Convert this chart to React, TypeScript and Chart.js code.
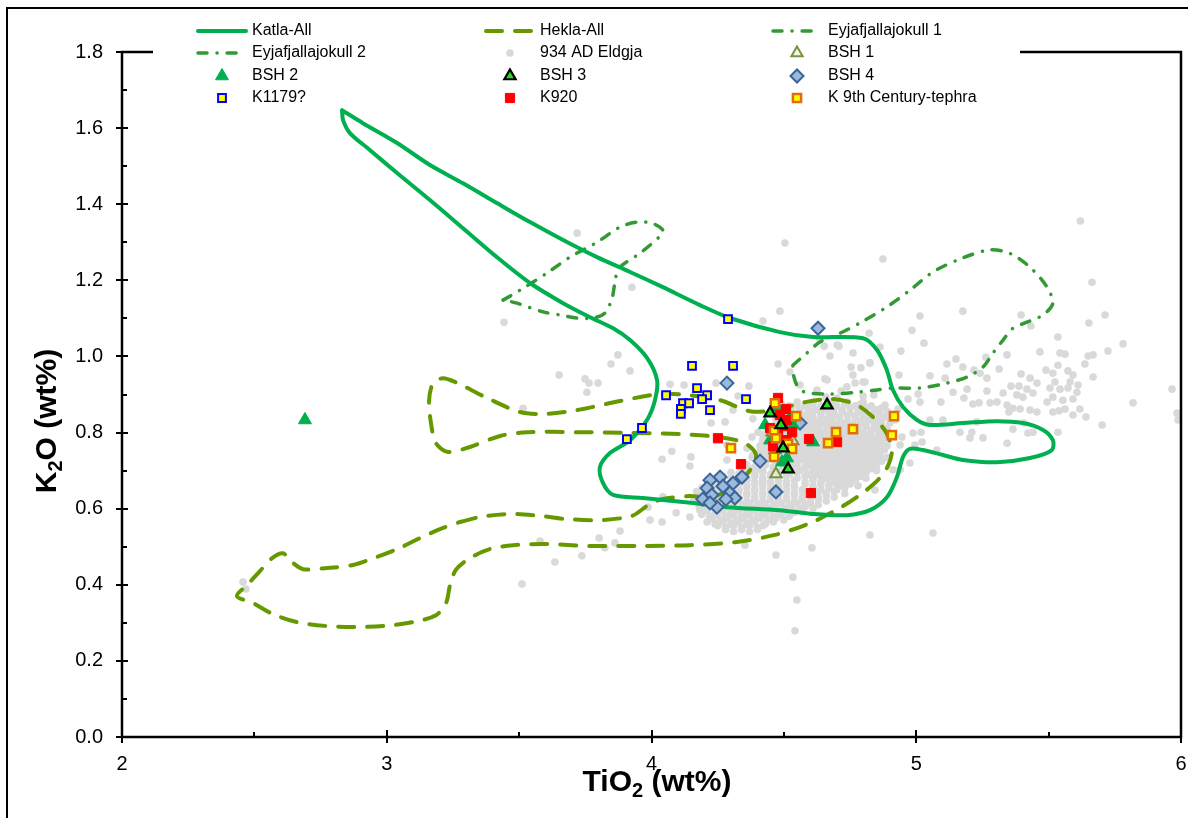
import React, { useEffect, useRef } from 'react';
import { Chart, registerables } from 'chart.js';

Chart.register(...registerables);

type Pt = [number, number];

const FONT = '"Liberation Sans", Arial, sans-serif';

const xTickValues = [2, 3, 4, 5, 6];
const xMinorValues = [2.5, 3.5, 4.5, 5.5];
const yTickValues = [0, 0.2, 0.4, 0.6, 0.8, 1.0, 1.2, 1.4, 1.6, 1.8];
const yMinorValues = [0.1, 0.3, 0.5, 0.7, 0.9, 1.1, 1.3, 1.5, 1.7];

const katlaAll: Pt[] = [
  [2.831, 1.647], [2.910, 1.613], [3.039, 1.561], [3.163, 1.503], [3.288, 1.455], [3.416, 1.403],
  [3.541, 1.353], [3.666, 1.306], [3.794, 1.261], [3.919, 1.222], [4.043, 1.182], [4.183, 1.135],
  [4.296, 1.101], [4.485, 1.064], [4.610, 1.051], [4.799, 1.048], [4.852, 1.017], [4.889, 0.964],
  [4.912, 0.912], [4.950, 0.867], [5.003, 0.833], [5.052, 0.820], [5.176, 0.825], [5.305, 0.830],
  [5.403, 0.825], [5.479, 0.807], [5.516, 0.780], [5.512, 0.754], [5.430, 0.733], [5.305, 0.722],
  [5.176, 0.728], [5.101, 0.741], [5.025, 0.754], [4.976, 0.757], [4.950, 0.736], [4.927, 0.683],
  [4.889, 0.630], [4.825, 0.596], [4.738, 0.583], [4.610, 0.586], [4.485, 0.596], [4.285, 0.604],
  [4.157, 0.615], [3.968, 0.628], [3.855, 0.636], [3.817, 0.667], [3.805, 0.709], [3.843, 0.746],
  [3.919, 0.780], [3.983, 0.833], [4.013, 0.885], [4.021, 0.938], [3.983, 0.996], [3.919, 1.043],
  [3.855, 1.074], [3.768, 1.103], [3.666, 1.140], [3.541, 1.193], [3.416, 1.261], [3.288, 1.337],
  [3.163, 1.411], [3.039, 1.482], [2.937, 1.542], [2.861, 1.587], [2.835, 1.621], [2.831, 1.647],
];

const heklaAll: Pt[] = [
  [3.277, 0.565], [3.352, 0.578], [3.465, 0.586], [3.579, 0.581], [3.673, 0.573], [3.805, 0.570],
  [3.926, 0.581], [3.987, 0.609], [4.040, 0.625], [4.145, 0.633], [4.221, 0.630], [4.304, 0.654],
  [4.372, 0.701], [4.395, 0.741], [4.353, 0.772], [4.259, 0.788], [4.108, 0.796], [3.919, 0.799],
  [3.719, 0.801], [3.530, 0.801], [3.428, 0.791], [3.314, 0.762], [3.231, 0.749], [3.186, 0.772],
  [3.167, 0.825], [3.160, 0.885], [3.175, 0.930], [3.212, 0.943], [3.258, 0.933], [3.379, 0.891],
  [3.503, 0.854], [3.598, 0.849], [3.719, 0.859], [3.881, 0.883], [4.032, 0.901], [4.145, 0.898],
  [4.259, 0.885], [4.372, 0.856], [4.466, 0.859], [4.580, 0.880], [4.682, 0.888], [4.768, 0.875],
  [4.833, 0.843], [4.886, 0.801], [4.908, 0.754], [4.893, 0.712], [4.855, 0.675], [4.787, 0.636],
  [4.704, 0.599], [4.599, 0.562], [4.466, 0.531], [4.315, 0.512], [4.145, 0.504], [3.956, 0.502],
  [3.768, 0.502], [3.598, 0.507], [3.477, 0.504], [3.390, 0.494], [3.314, 0.470], [3.261, 0.439],
  [3.239, 0.399], [3.224, 0.352], [3.186, 0.320], [3.099, 0.302], [2.993, 0.292], [2.880, 0.289],
  [2.767, 0.292], [2.661, 0.302], [2.570, 0.323], [2.495, 0.352], [2.434, 0.370], [2.472, 0.399],
  [2.521, 0.436], [2.567, 0.470], [2.608, 0.483], [2.638, 0.462], [2.684, 0.441], [2.774, 0.444],
  [2.872, 0.452], [2.963, 0.473], [3.050, 0.497], [3.126, 0.523], [3.201, 0.546], [3.277, 0.565],
];

const eyja1: Pt[] = [
  [4.534, 0.977], [4.587, 1.009], [4.636, 1.038], [4.712, 1.061], [4.787, 1.088], [4.889, 1.130],
  [4.976, 1.174], [5.063, 1.222], [5.165, 1.256], [5.267, 1.279], [5.328, 1.277], [5.380, 1.261],
  [5.441, 1.227], [5.494, 1.182], [5.516, 1.140], [5.479, 1.109], [5.418, 1.090], [5.365, 1.074],
  [5.328, 1.043], [5.290, 1.009], [5.252, 0.972], [5.192, 0.946], [5.116, 0.930], [5.014, 0.917],
  [4.912, 0.917], [4.852, 0.912], [4.776, 0.906], [4.674, 0.901], [4.580, 0.906], [4.549, 0.925],
  [4.534, 0.959], [4.534, 0.977],
];

const eyja2: Pt[] = [
  [3.439, 1.148], [3.503, 1.174], [3.605, 1.219], [3.692, 1.261], [3.794, 1.300], [3.881, 1.340],
  [3.945, 1.353], [4.002, 1.350], [4.043, 1.332], [4.032, 1.316], [3.956, 1.271], [3.877, 1.232],
  [3.862, 1.195], [3.851, 1.153], [3.824, 1.114], [3.779, 1.101], [3.719, 1.101], [3.654, 1.109],
  [3.590, 1.117], [3.492, 1.140], [3.439, 1.148],
];

const eldgjaScatter: Pt[] = [
  [5.620, 1.356], [4.874, 1.256], [5.664, 1.195], [5.176, 1.119], [5.014, 1.106], [5.396, 1.109],
  [5.713, 1.109], [5.433, 1.080], [4.984, 1.069], [5.652, 1.088], [4.822, 1.061], [5.535, 1.051],
  [5.781, 1.033], [5.029, 1.035], [4.863, 1.025], [4.708, 1.027], [4.652, 1.027], [4.942, 1.014],
  [5.724, 1.014], [5.467, 1.012], [5.543, 1.009], [5.562, 1.006], [5.649, 1.001], [5.668, 1.004],
  [5.263, 0.998], [5.343, 1.004], [4.674, 1.001], [4.825, 0.983], [5.116, 0.980], [5.150, 0.993],
  [5.176, 0.972], [5.637, 0.980], [5.535, 0.977], [4.754, 0.972], [4.791, 0.970], [4.935, 0.951],
  [5.490, 0.964], [5.516, 0.956], [5.573, 0.962], [5.592, 0.951], [5.396, 0.954], [5.668, 0.946],
  [5.313, 0.967], [5.218, 0.964], [5.241, 0.956], [5.052, 0.949], [5.109, 0.943], [5.267, 0.943],
  [5.430, 0.943], [5.456, 0.930], [5.524, 0.933], [5.581, 0.933], [5.611, 0.925], [4.655, 0.941],
  [4.769, 0.930], [4.806, 0.933], [5.388, 0.922], [5.358, 0.922], [5.418, 0.914], [5.505, 0.917],
  [5.543, 0.914], [5.573, 0.917], [5.607, 0.906], [5.441, 0.904], [5.139, 0.906], [5.192, 0.914],
  [5.328, 0.904], [5.380, 0.899], [5.403, 0.893], [5.516, 0.893], [5.554, 0.885], [5.494, 0.880],
  [5.592, 0.888], [5.267, 0.909], [4.716, 0.909], [4.799, 0.896], [4.840, 0.899], [5.007, 0.901],
  [4.969, 0.888], [5.014, 0.880], [5.093, 0.880], [5.180, 0.891], [5.214, 0.875], [5.237, 0.878],
  [5.279, 0.878], [5.305, 0.880], [5.343, 0.872], [5.365, 0.864], [5.392, 0.862], [5.430, 0.859],
  [5.456, 0.854], [5.516, 0.854], [5.539, 0.857], [5.562, 0.862], [5.618, 0.862], [5.641, 0.841],
  [5.819, 0.878], [5.966, 0.914], [5.985, 0.851], [5.989, 0.833], [5.702, 0.820], [5.592, 0.846],
  [5.350, 0.854], [5.365, 0.809], [5.407, 0.825], [5.422, 0.799], [5.441, 0.801], [5.535, 0.801],
  [5.229, 0.828], [5.052, 0.833], [5.101, 0.833], [5.018, 0.801], [4.988, 0.799], [5.210, 0.801],
  [5.252, 0.786], [5.343, 0.772], [4.995, 0.767], [4.939, 0.767], [4.946, 0.788], [4.859, 0.857],
  [4.931, 0.862], [4.897, 0.841], [4.799, 0.825],
  [3.719, 1.324], [3.926, 1.182], [3.443, 1.090], [3.873, 1.004], [4.504, 1.298], [4.485, 1.119],
  [4.421, 1.093], [3.847, 0.980], [3.919, 0.962], [3.749, 0.941], [3.764, 0.930], [3.798, 0.930],
  [3.756, 0.906], [3.651, 0.951], [3.515, 0.864], [4.070, 0.927], [4.123, 0.925], [4.244, 0.930],
  [4.368, 0.922], [4.327, 0.896], [4.308, 0.859], [4.225, 0.825], [4.278, 0.828], [4.383, 0.836],
  [4.478, 0.980], [4.523, 0.959], [4.561, 0.925], [4.625, 0.912], [4.663, 0.938], [4.659, 0.893],
  [4.701, 0.891], [4.738, 0.920], [4.761, 0.951], [4.799, 0.933], [4.825, 0.983], [4.761, 1.009],
  [4.636, 1.043], [4.701, 1.030], [4.077, 0.751], [4.040, 0.730], [4.149, 0.736], [4.145, 0.712],
  [3.987, 0.604], [4.285, 0.767], [4.285, 0.728], [4.380, 0.788], [4.402, 0.801], [4.361, 0.759],
  [4.383, 0.741], [4.380, 0.702], [4.346, 0.675], [4.421, 0.670], [4.043, 0.631], [2.457, 0.407],
  [2.468, 0.389], [3.511, 0.402], [3.635, 0.460], [3.737, 0.476], [3.579, 0.515], [3.802, 0.523],
  [3.824, 0.497], [3.862, 0.510], [3.881, 0.541], [3.994, 0.570], [4.040, 0.565], [4.093, 0.589],
  [4.145, 0.578], [4.183, 0.596], [4.534, 0.420], [4.549, 0.360], [4.542, 0.279], [4.353, 0.504],
  [4.470, 0.478], [4.606, 0.497], [4.825, 0.531], [5.063, 0.536], [4.939, 0.702], [4.976, 0.720],
  [5.078, 0.754], [5.022, 0.775], [5.165, 0.801], [5.203, 0.786], [4.882, 0.872], [4.920, 0.833],
  [4.863, 0.741], [4.912, 0.702], [4.844, 0.649],
];

// dense core of the Eldgja cloud: [K2O, TiO2 values read along that row]
const eldgjaCoreRows: [number, number[]][] = [
  [0.88, [4.55, 4.61, 4.68, 4.74, 4.80]],
  [0.875, [4.49, 4.55, 4.61, 4.67, 4.73, 4.79]],
  [0.87, [4.52, 4.58, 4.64, 4.70, 4.77, 4.83]],
  [0.865, [4.47, 4.53, 4.59, 4.64, 4.69, 4.75, 4.81, 4.87]],
  [0.86, [4.50, 4.56, 4.62, 4.66, 4.72, 4.79, 4.85]],
  [0.855, [4.48, 4.56, 4.61, 4.67, 4.72, 4.78, 4.84, 4.89]],
  [0.85, [4.53, 4.59, 4.64, 4.69, 4.75, 4.81, 4.86]],
  [0.845, [4.49, 4.54, 4.58, 4.64, 4.69, 4.74, 4.80, 4.86]],
  [0.84, [4.51, 4.56, 4.61, 4.67, 4.71, 4.77, 4.83, 4.88]],
  [0.835, [4.47, 4.52, 4.57, 4.61, 4.66, 4.71, 4.77, 4.82, 4.87]],
  [0.83, [4.54, 4.59, 4.63, 4.68, 4.74, 4.79, 4.85]],
  [0.825, [4.48, 4.53, 4.58, 4.64, 4.68, 4.73, 4.79, 4.84, 4.90]],
  [0.82, [4.50, 4.56, 4.61, 4.66, 4.70, 4.76, 4.81, 4.87]],
  [0.815, [4.45, 4.51, 4.56, 4.60, 4.66, 4.71, 4.76, 4.81, 4.86]],
  [0.81, [4.48, 4.53, 4.58, 4.63, 4.68, 4.73, 4.78, 4.84, 4.89]],
  [0.805, [4.44, 4.49, 4.54, 4.59, 4.63, 4.68, 4.73, 4.78, 4.83, 4.88]],
  [0.80, [4.46, 4.51, 4.56, 4.61, 4.65, 4.71, 4.75, 4.80, 4.86]],
  [0.795, [4.42, 4.47, 4.52, 4.57, 4.62, 4.67, 4.71, 4.76, 4.81, 4.86, 4.90]],
  [0.79, [4.44, 4.49, 4.54, 4.59, 4.64, 4.69, 4.73, 4.78, 4.83, 4.88]],
  [0.785, [4.45, 4.50, 4.55, 4.60, 4.64, 4.69, 4.74, 4.79, 4.84, 4.89]],
  [0.78, [4.42, 4.47, 4.52, 4.57, 4.62, 4.66, 4.71, 4.76, 4.81, 4.86]],
  [0.775, [4.43, 4.48, 4.53, 4.58, 4.62, 4.67, 4.72, 4.77, 4.82, 4.87]],
  [0.77, [4.45, 4.50, 4.55, 4.60, 4.65, 4.69, 4.74, 4.79, 4.84]],
  [0.765, [4.41, 4.46, 4.51, 4.56, 4.61, 4.65, 4.70, 4.75, 4.80, 4.85, 4.89]],
  [0.76, [4.43, 4.48, 4.53, 4.58, 4.63, 4.67, 4.72, 4.77, 4.82, 4.87]],
  [0.755, [4.44, 4.49, 4.54, 4.59, 4.64, 4.68, 4.73, 4.78, 4.83, 4.88]],
  [0.75, [4.41, 4.46, 4.51, 4.56, 4.61, 4.66, 4.70, 4.75, 4.80, 4.85]],
  [0.745, [4.42, 4.47, 4.52, 4.57, 4.62, 4.66, 4.71, 4.76, 4.81, 4.86]],
  [0.74, [4.44, 4.49, 4.54, 4.59, 4.64, 4.68, 4.73, 4.78, 4.83]],
  [0.735, [4.38, 4.44, 4.50, 4.55, 4.60, 4.64, 4.69, 4.74, 4.79, 4.84, 4.89]],
  [0.73, [4.40, 4.47, 4.52, 4.57, 4.62, 4.66, 4.71, 4.76, 4.81, 4.86]],
  [0.725, [4.41, 4.47, 4.53, 4.58, 4.62, 4.67, 4.72, 4.77, 4.82, 4.87]],
  [0.72, [4.43, 4.50, 4.55, 4.60, 4.64, 4.69, 4.74, 4.79, 4.84]],
  [0.715, [4.36, 4.43, 4.50, 4.55, 4.60, 4.65, 4.70, 4.75, 4.80, 4.85]],
  [0.71, [4.39, 4.46, 4.53, 4.58, 4.62, 4.67, 4.72, 4.77, 4.82]],
  [0.705, [4.34, 4.40, 4.46, 4.53, 4.58, 4.63, 4.68, 4.73, 4.78, 4.83]],
  [0.70, [4.37, 4.42, 4.49, 4.56, 4.61, 4.65, 4.70, 4.75, 4.80, 4.85]],
  [0.695, [4.30, 4.36, 4.42, 4.48, 4.55, 4.61, 4.66, 4.71, 4.76, 4.81]],
  [0.69, [4.33, 4.39, 4.45, 4.52, 4.59, 4.63, 4.68, 4.73, 4.78]],
  [0.685, [4.27, 4.33, 4.39, 4.45, 4.51, 4.58, 4.64, 4.69, 4.74, 4.79]],
  [0.68, [4.30, 4.36, 4.42, 4.48, 4.55, 4.61, 4.66, 4.71, 4.76, 4.81]],
  [0.675, [4.24, 4.30, 4.36, 4.42, 4.48, 4.54, 4.61, 4.67, 4.72, 4.77]],
  [0.67, [4.27, 4.33, 4.39, 4.45, 4.51, 4.58, 4.64, 4.69, 4.74]],
  [0.665, [4.21, 4.27, 4.33, 4.39, 4.45, 4.51, 4.58, 4.64, 4.70, 4.75]],
  [0.66, [4.24, 4.30, 4.36, 4.42, 4.48, 4.54, 4.61, 4.67, 4.72, 4.78]],
  [0.655, [4.19, 4.25, 4.30, 4.36, 4.42, 4.48, 4.54, 4.61, 4.67, 4.73]],
  [0.65, [4.22, 4.27, 4.33, 4.39, 4.45, 4.51, 4.57, 4.64, 4.70]],
  [0.645, [4.17, 4.22, 4.28, 4.33, 4.39, 4.45, 4.51, 4.57, 4.63, 4.69]],
  [0.64, [4.20, 4.25, 4.30, 4.36, 4.42, 4.48, 4.54, 4.60, 4.66, 4.73]],
  [0.635, [4.19, 4.25, 4.30, 4.36, 4.42, 4.48, 4.54, 4.60, 4.66]],
  [0.63, [4.22, 4.28, 4.33, 4.39, 4.45, 4.51, 4.57, 4.63, 4.69]],
  [0.625, [4.16, 4.22, 4.28, 4.33, 4.39, 4.45, 4.51, 4.57, 4.63]],
  [0.62, [4.19, 4.25, 4.31, 4.36, 4.42, 4.48, 4.54, 4.60, 4.66]],
  [0.615, [4.20, 4.25, 4.31, 4.37, 4.43, 4.49, 4.55, 4.60]],
  [0.61, [4.23, 4.28, 4.34, 4.40, 4.46, 4.52, 4.58, 4.63]],
  [0.605, [4.18, 4.23, 4.29, 4.35, 4.41, 4.47, 4.53, 4.58]],
  [0.60, [4.21, 4.26, 4.32, 4.38, 4.44, 4.50, 4.56, 4.61]],
  [0.595, [4.21, 4.27, 4.33, 4.39, 4.45, 4.51, 4.57]],
  [0.59, [4.24, 4.30, 4.36, 4.42, 4.48, 4.54]],
  [0.585, [4.19, 4.25, 4.31, 4.37, 4.43, 4.49]],
  [0.58, [4.22, 4.28, 4.34, 4.40, 4.46, 4.52]],
  [0.575, [4.23, 4.29, 4.35, 4.41, 4.47]],
  [0.57, [4.26, 4.32, 4.38, 4.44, 4.50]],
  [0.565, [4.21, 4.27, 4.33, 4.39, 4.46]],
  [0.56, [4.24, 4.30, 4.36, 4.43]],
  [0.555, [4.25, 4.31, 4.37, 4.42]],
  [0.55, [4.28, 4.34, 4.40]],
  [0.545, [4.28, 4.34, 4.40]],
  [0.54, [4.31, 4.37]],
];

const bsh1: Pt[] = [[4.470, 0.691], [4.534, 0.778], [4.455, 0.801]];
const bsh2: Pt[] = [
  [2.691, 0.833], [4.429, 0.820], [4.448, 0.780], [4.474, 0.867], [4.493, 0.722], [4.512, 0.733],
  [4.610, 0.775], [4.534, 0.820], [4.466, 0.754], [4.523, 0.838],
];
const bsh3: Pt[] = [[4.448, 0.851], [4.663, 0.872], [4.516, 0.704], [4.497, 0.759], [4.489, 0.820]];
const bsh4: Pt[] = [
  [4.629, 1.074], [4.285, 0.930], [4.561, 0.825], [4.485, 0.767], [4.410, 0.725], [4.470, 0.644],
  [4.342, 0.683], [4.308, 0.667], [4.296, 0.641], [4.315, 0.628], [4.259, 0.683], [4.221, 0.675],
  [4.270, 0.659], [4.210, 0.654], [4.228, 0.636], [4.194, 0.625], [4.247, 0.604], [4.221, 0.615],
  [4.281, 0.625],
];
const k1179: Pt[] = [
  [4.289, 1.098], [4.153, 0.975], [4.308, 0.975], [4.172, 0.917], [4.055, 0.898], [4.210, 0.898],
  [4.191, 0.888], [4.119, 0.877], [4.142, 0.877], [4.357, 0.888], [4.221, 0.859], [4.111, 0.862],
  [4.111, 0.849], [3.964, 0.812], [3.907, 0.783],
];
const k920: Pt[] = [
  [4.478, 0.891], [4.508, 0.862], [4.512, 0.833], [4.497, 0.817], [4.448, 0.812], [4.478, 0.806],
  [4.531, 0.801], [4.508, 0.780], [4.459, 0.764], [4.251, 0.785], [4.338, 0.717], [4.595, 0.783],
  [4.701, 0.775], [4.602, 0.641], [4.485, 0.846],
];
const k9th: Pt[] = [
  [4.466, 0.877], [4.546, 0.843], [4.463, 0.804], [4.470, 0.785], [4.516, 0.770], [4.531, 0.757],
  [4.463, 0.736], [4.697, 0.801], [4.761, 0.809], [4.667, 0.772], [4.916, 0.843], [4.908, 0.793],
  [4.300, 0.759],
];

const toXY = (pts: Pt[]) => pts.map(([x, y]) => ({ x, y }));

const eldgja934: Pt[] = [
  ...eldgjaScatter,
  ...eldgjaCoreRows.flatMap(([y, xs]) => xs.map((x) => [x, y] as Pt)),
];

function markerPath(ctx: CanvasRenderingContext2D, style: string, x: number, y: number, r: number) {
  ctx.beginPath();
  if (style === 'triangle') {
    let a = 0;
    ctx.moveTo(x + Math.sin(a) * r, y - Math.cos(a) * r);
    a += (2 * Math.PI) / 3;
    ctx.lineTo(x + Math.sin(a) * r, y - Math.cos(a) * r);
    a += (2 * Math.PI) / 3;
    ctx.lineTo(x + Math.sin(a) * r, y - Math.cos(a) * r);
    ctx.closePath();
  } else if (style === 'rect') {
    const s = Math.SQRT1_2 * r;
    ctx.rect(x - s, y - s, 2 * s, 2 * s);
  } else if (style === 'rectRot') {
    ctx.moveTo(x - r, y);
    ctx.lineTo(x, y - r);
    ctx.lineTo(x + r, y);
    ctx.lineTo(x, y + r);
    ctx.closePath();
  } else {
    ctx.arc(x, y, r, 0, Math.PI * 2);
  }
}

const decorPlugin = {
  id: 'decor',
  afterDraw(chart: any) {
    const ctx: CanvasRenderingContext2D = chart.ctx;
    const { left, right, top, bottom } = chart.chartArea;
    const xs = chart.scales.x;
    const ys = chart.scales.y;
    ctx.save();
    ctx.setLineDash([]);
    ctx.strokeStyle = '#000';
    ctx.lineCap = 'butt';

    // outer frame
    ctx.lineWidth = 2;
    ctx.beginPath();
    ctx.moveTo(7, 818);
    ctx.lineTo(7, 8);
    ctx.lineTo(1188, 8);
    ctx.stroke();

    // plot frame
    ctx.lineWidth = 2.5;
    ctx.beginPath();
    ctx.moveTo(left, top);
    ctx.lineTo(left, bottom);
    ctx.lineTo(right, bottom);
    ctx.lineTo(right, top);
    ctx.closePath();
    ctx.stroke();

    // ticks
    ctx.lineWidth = 2;
    ctx.beginPath();
    yTickValues.forEach((v) => {
      const py = Math.round(ys.getPixelForValue(v));
      ctx.moveTo(left - 6, py);
      ctx.lineTo(left + 6, py);
    });
    yMinorValues.forEach((v) => {
      const py = Math.round(ys.getPixelForValue(v));
      ctx.moveTo(left, py);
      ctx.lineTo(left + 5, py);
    });
    xTickValues.forEach((v) => {
      const px = Math.round(xs.getPixelForValue(v));
      ctx.moveTo(px, bottom - 7);
      ctx.lineTo(px, bottom + 6);
    });
    xMinorValues.forEach((v) => {
      const px = Math.round(xs.getPixelForValue(v));
      ctx.moveTo(px, bottom - 5);
      ctx.lineTo(px, bottom);
    });
    ctx.stroke();

    // legend box
    ctx.fillStyle = '#fff';
    ctx.fillRect(153, 14, 867, 92);

    const colSym = [222, 510, 797];
    const colText = [252, 540, 828];
    const rowY = [31, 53, 76, 98];
    chart.data.datasets.forEach((ds: any, i: number) => {
      const r = Math.floor(i / 3);
      const c = i % 3;
      const cx = colSym[c];
      const cy = rowY[r];
      if (ds.showLine) {
        ctx.save();
        ctx.strokeStyle = ds.borderColor;
        ctx.lineWidth = ds.borderWidth;
        ctx.lineCap = 'round';
        ctx.setLineDash(ds.borderDash || []);
        ctx.beginPath();
        ctx.moveTo(cx - 24, cy);
        ctx.lineTo(cx + 24, cy);
        ctx.stroke();
        ctx.restore();
      } else {
        markerPath(ctx, ds.pointStyle, cx, cy, ds.pointRadius);
        ctx.fillStyle = ds.backgroundColor;
        ctx.fill();
        if (ds.borderWidth > 0) {
          ctx.lineWidth = ds.borderWidth;
          ctx.strokeStyle = ds.borderColor;
          ctx.stroke();
        }
      }
      ctx.fillStyle = '#000';
      ctx.font = `16px ${FONT}`;
      ctx.textAlign = 'left';
      ctx.textBaseline = 'middle';
      ctx.fillText(ds.label, colText[c], cy);
    });

    // axis titles
    const big = `bold 30px ${FONT}`;
    const small = `bold 20px ${FONT}`;
    const drawTitle = (a: string, sub: string, b: string, cx: number, base: number) => {
      ctx.textAlign = 'left';
      ctx.textBaseline = 'alphabetic';
      ctx.font = big;
      const wa = ctx.measureText(a).width;
      const wb = ctx.measureText(b).width;
      ctx.font = small;
      const ws = ctx.measureText(sub).width;
      const total = wa + ws + wb;
      let x = cx - total / 2;
      ctx.font = big;
      ctx.fillText(a, x, base);
      x += wa;
      ctx.font = small;
      ctx.fillText(sub, x, base + 6);
      x += ws;
      ctx.font = big;
      ctx.fillText(b, x, base);
    };
    ctx.fillStyle = '#000';
    drawTitle('TiO', '2', ' (wt%)', 657, 791);
    ctx.save();
    ctx.translate(56, 421);
    ctx.rotate(-Math.PI / 2);
    drawTitle('K', '2', 'O (wt%)', 0, 0);
    ctx.restore();

    ctx.restore();
  },
};

export default function App() {
  const ref = useRef<HTMLCanvasElement>(null);

  useEffect(() => {
    const canvas = ref.current;
    if (!canvas) return;

    const lineDs = (label: string, pts: Pt[], color: string, dash: number[], width: number, order: number) => ({
      label,
      data: toXY(pts),
      showLine: true,
      borderColor: color,
      backgroundColor: color,
      borderWidth: width,
      borderDash: dash,
      borderCapStyle: 'round',
      borderJoinStyle: 'round',
      tension: 0.3,
      pointRadius: 0,
      pointHoverRadius: 0,
      fill: false,
      order,
    });
    const ptDs = (label: string, pts: Pt[], style: string, r: number, fillC: string, strokeC: string, bw: number, order: number) => ({
      label,
      data: toXY(pts),
      showLine: false,
      pointStyle: style,
      pointRadius: r,
      pointHoverRadius: r,
      backgroundColor: fillC,
      borderColor: strokeC,
      borderWidth: bw,
      order,
    });

    const chart = new Chart(canvas, {
      type: 'scatter',
      data: {
        datasets: [
          lineDs('Katla-All', katlaAll, '#00B050', [], 4, 80),
          lineDs('Hekla-All', heklaAll, '#669900', [16, 13], 4, 90),
          lineDs('Eyjafjallajokull 1', eyja1, '#339933', [9, 10, 0.1, 10], 3.5, 85),
          lineDs('Eyjafjallajokull 2', eyja2, '#339933', [9, 10, 0.1, 10], 3.5, 84),
          ptDs('934 AD Eldgja', eldgja934, 'circle', 3.8, '#D9D9D9', '#D9D9D9', 0, 100),
          ptDs('BSH 1', bsh1, 'triangle', 6.5, 'rgba(230,238,215,0.6)', '#77933C', 2, 38),
          ptDs('BSH 2', bsh2, 'triangle', 7.5, '#00B050', '#00B050', 1, 40),
          ptDs('BSH 3', bsh3, 'triangle', 6.5, '#22DD22', '#000000', 2.2, 20),
          ptDs('BSH 4', bsh4, 'rectRot', 6.5, '#9DB9DC', '#3A6599', 2, 50),
          ptDs('K1179?', k1179, 'rect', 5.5, '#FFFF00', '#0000FF', 2, 45),
          ptDs('K920', k920, 'rect', 6.5, '#FF0000', '#FF0000', 1, 35),
          ptDs('K 9th Century-tephra', k9th, 'rect', 5.8, '#FFFF00', '#E46C0A', 2.5, 30),
        ] as any,
      },
      options: {
        responsive: false,
        maintainAspectRatio: false,
        animation: false,
        devicePixelRatio: 1,
        events: [],
        layout: { autoPadding: false, padding: { left: 0, right: 7, top: 52, bottom: 0 } },
        plugins: {
          legend: { display: false },
          tooltip: { enabled: false },
          title: { display: false },
        },
        scales: {
          x: {
            type: 'linear',
            min: 2,
            max: 6,
            afterBuildTicks: (s: any) => {
              s.ticks = xTickValues.map((v) => ({ value: v }));
            },
            afterFit: (s: any) => {
              s.height = 81;
              s.paddingLeft = 0;
              s.paddingRight = 0;
            },
            grid: { display: false, drawTicks: true, tickLength: 14 },
            border: { display: false },
            ticks: {
              font: { family: FONT, size: 20 },
              color: '#000',
              padding: 1,
              maxRotation: 0,
              autoSkip: false,
              callback: (v: any) => String(v),
            },
          },
          y: {
            type: 'linear',
            min: 0,
            max: 1.8,
            afterBuildTicks: (s: any) => {
              s.ticks = yTickValues.map((v) => ({ value: v }));
            },
            afterFit: (s: any) => {
              s.width = 122;
            },
            grid: { display: false, drawTicks: true, tickLength: 6 },
            border: { display: false },
            ticks: {
              font: { family: FONT, size: 20 },
              color: '#000',
              padding: 13,
              autoSkip: false,
              callback: (v: any) => Number(v).toFixed(1),
            },
          },
        },
      } as any,
      plugins: [decorPlugin],
    });

    return () => chart.destroy();
  }, []);

  return (
    <div style={{ position: 'absolute', left: 0, top: 0, width: 1188, height: 818, background: '#fff' }}>
      <canvas ref={ref} width={1188} height={818} style={{ display: 'block', width: 1188, height: 818 }} />
    </div>
  );
}
